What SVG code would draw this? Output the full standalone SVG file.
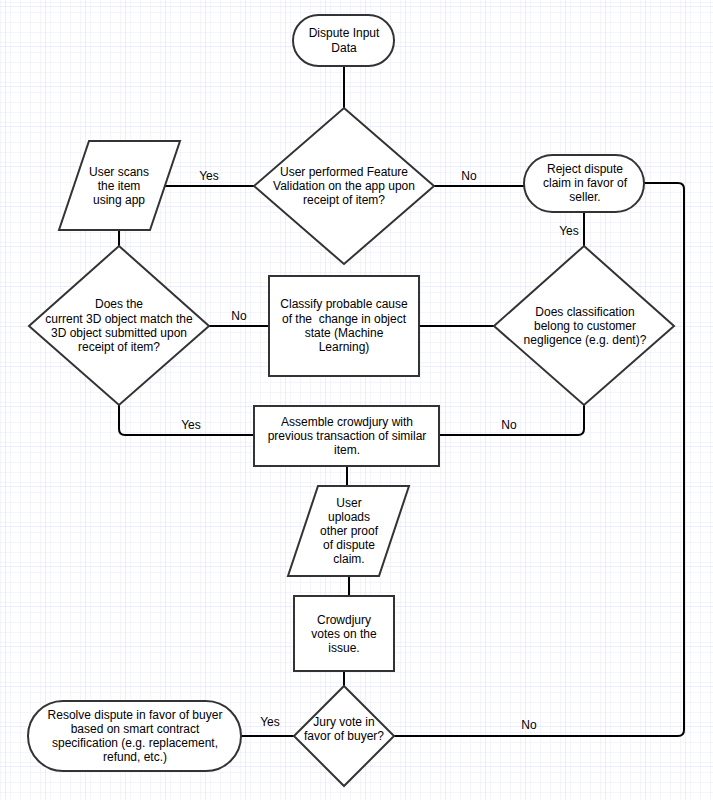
<svg xmlns="http://www.w3.org/2000/svg" width="713" height="800" viewBox="0 0 713 800">
<defs>
<pattern id="minor" width="10" height="10" patternUnits="userSpaceOnUse" patternTransform="translate(5,6)">
<path d="M0 0H10M0 0V10" fill="none" stroke="#e9e9fc" stroke-width="1"/>
</pattern>
<pattern id="major" width="40" height="40" patternUnits="userSpaceOnUse" patternTransform="translate(5,6)">
<rect width="40" height="40" fill="url(#minor)"/>
<path d="M0 0H40M0 0V40" fill="none" stroke="#dcdcf8" stroke-width="1"/>
</pattern>
<style>
.n{fill:#fff;stroke:#333;stroke-width:2}
.c{fill:none;stroke:#000;stroke-width:2}
text{font-family:"Liberation Sans",Arial,Helvetica,sans-serif;font-size:12px;fill:#000;text-anchor:middle}
</style>
</defs>
<rect width="713" height="800" fill="#fff"/>
<rect width="713" height="800" fill="url(#major)"/>

<g id="connectors">
<path class="c" d="M344 66V108"/>
<path class="c" d="M165 186H254"/>
<path class="c" d="M434 186H524"/>
<path class="c" d="M119 230V246"/>
<path class="c" d="M584 212V246"/>
<path class="c" d="M209 326H269"/>
<path class="c" d="M419 326H494"/>
<path class="c" d="M644 183H678Q684 183 684 189V730Q684 736 678 736H394"/>
<path class="c" d="M119 405V429Q119 435 125 435H254"/>
<path class="c" d="M584 405V429Q584 435 578 435H439"/>
<path class="c" d="M347 466V486"/>
<path class="c" d="M349 576V596"/>
<path class="c" d="M344 671V686"/>
<path class="c" d="M241 736H294"/>
<text x="209" y="180">Yes</text>
<text x="469" y="180">No</text>
<text x="569" y="235">Yes</text>
<text x="239" y="320">No</text>
<text x="191" y="429">Yes</text>
<text x="509" y="429">No</text>
<text x="270" y="726">Yes</text>
<text x="529" y="729">No</text>
</g>

<g id="start">
<rect class="n" x="293" y="15" width="101" height="51" rx="25.5"/>
<text x="344" y="37">Dispute Input</text>
<text x="344" y="52">Data</text>
</g>

<g id="feature-validation">
<polygon class="n" points="344,108 434,186 344,264 254,186"/>
<text x="344" y="176">User performed Feature</text>
<text x="344" y="190">Validation on the app upon</text>
<text x="344" y="204">receipt of item?</text>
</g>

<g id="user-scans">
<polygon class="n" points="89,141 180,141 150,230 59,230"/>
<text x="119" y="176">User scans</text>
<text x="119" y="190">the item</text>
<text x="119" y="204">using app</text>
</g>

<g id="reject">
<rect class="n" x="524" y="155" width="120" height="57" rx="28.5"/>
<text x="585" y="173">Reject dispute</text>
<text x="585" y="187">claim in favor of</text>
<text x="585" y="201">seller.</text>
</g>

<g id="match-3d">
<polygon class="n" points="119,246 209,326 119,405 29,326"/>
<text x="119" y="308">Does the</text>
<text x="119" y="323">current 3D object match the</text>
<text x="119" y="337">3D object submitted upon</text>
<text x="119" y="351">receipt of item?</text>
</g>

<g id="classify">
<rect class="n" x="269" y="276" width="150" height="100"/>
<text x="344" y="308">Classify probable cause</text>
<text x="344" y="323" xml:space="preserve">of the  change in object</text>
<text x="344" y="337">state (Machine</text>
<text x="344" y="351">Learning)</text>
</g>

<g id="negligence">
<polygon class="n" points="584,246 674,326 584,405 494,326"/>
<text x="585" y="316">Does classification</text>
<text x="585" y="330">belong to customer</text>
<text x="585" y="344">negligence (e.g. dent)?</text>
</g>

<g id="assemble">
<rect class="n" x="254" y="406" width="185" height="60"/>
<text x="347" y="426">Assemble crowdjury with</text>
<text x="347" y="440">previous transaction of similar</text>
<text x="347" y="454">item.</text>
</g>

<g id="upload-proof">
<polygon class="n" points="318,486 409,486 379,576 288,576"/>
<text x="349" y="507">User</text>
<text x="349" y="521">uploads</text>
<text x="349" y="535">other proof</text>
<text x="349" y="549">of dispute</text>
<text x="349" y="563">claim.</text>
</g>

<g id="votes">
<rect class="n" x="294" y="596" width="100" height="75"/>
<text x="344" y="624">Crowdjury</text>
<text x="344" y="638">votes on the</text>
<text x="344" y="652">issue.</text>
</g>

<g id="jury-vote">
<polygon class="n" points="344,686 394,736 344,786 294,736"/>
<text x="344" y="726">Jury vote in</text>
<text x="344" y="740">favor of buyer?</text>
</g>

<g id="resolve">
<rect class="n" x="28" y="701" width="213" height="70" rx="35"/>
<text x="135" y="719">Resolve dispute in favor of buyer</text>
<text x="135" y="733">based on smart contract</text>
<text x="135" y="747">specification (e.g. replacement,</text>
<text x="135" y="761">refund, etc.)</text>
</g>
</svg>
